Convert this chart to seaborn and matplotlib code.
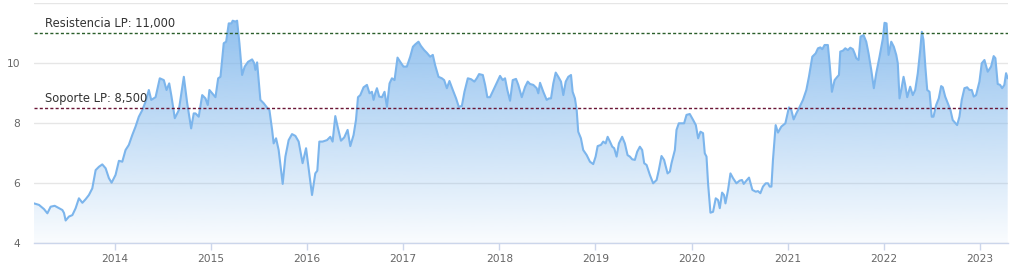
import numpy as np
import pandas as pd
import matplotlib
matplotlib.use("Agg")
import matplotlib.pyplot as plt
import seaborn as sns
from matplotlib.colors import LinearSegmentedColormap

# ---- data (decimal years, price) ----
dates = [
    2013.162, 2013.214, 2013.266, 2013.301, 2013.335, 2013.377, 2013.422, 2013.457, 2013.474, 2013.491,
    2013.525, 2013.561, 2013.595, 2013.629, 2013.665, 2013.699, 2013.733, 2013.768, 2013.803, 2013.837,
    2013.872, 2013.907, 2013.941, 2013.969, 2014.010, 2014.045, 2014.080, 2014.114, 2014.148, 2014.184,
    2014.218, 2014.252, 2014.288, 2014.322, 2014.356, 2014.381, 2014.426, 2014.470, 2014.512, 2014.540,
    2014.568, 2014.592, 2014.626, 2014.668, 2014.720, 2014.755, 2014.796, 2014.823, 2014.841, 2014.875,
    2014.911, 2014.945, 2014.969, 2014.986, 2015.031, 2015.049, 2015.077, 2015.101, 2015.135, 2015.160,
    2015.187, 2015.215, 2015.228, 2015.256, 2015.274, 2015.298, 2015.326, 2015.353, 2015.388, 2015.430,
    2015.451, 2015.464, 2015.482, 2015.516, 2015.550, 2015.586, 2015.610, 2015.638, 2015.654, 2015.679,
    2015.706, 2015.748, 2015.776, 2015.810, 2015.845, 2015.880, 2015.914, 2015.955, 2015.991, 2016.018,
    2016.053, 2016.087, 2016.108, 2016.129, 2016.163, 2016.209, 2016.243, 2016.267, 2016.295, 2016.319,
    2016.354, 2016.388, 2016.423, 2016.451, 2016.485, 2016.510, 2016.531, 2016.555, 2016.589, 2016.624,
    2016.651, 2016.676, 2016.693, 2016.710, 2016.728, 2016.752, 2016.780, 2016.807, 2016.832, 2016.859,
    2016.884, 2016.911, 2016.942, 2016.970, 2017.004, 2017.039, 2017.074, 2017.102, 2017.126, 2017.160,
    2017.185, 2017.219, 2017.247, 2017.281, 2017.309, 2017.333, 2017.368, 2017.403, 2017.427, 2017.455,
    2017.482, 2017.517, 2017.551, 2017.579, 2017.611, 2017.638, 2017.673, 2017.707, 2017.741, 2017.766,
    2017.790, 2017.829, 2017.853, 2017.876, 2017.904, 2017.939, 2017.974, 2018.008, 2018.036, 2018.060,
    2018.084, 2018.112, 2018.140, 2018.174, 2018.198, 2018.234, 2018.268, 2018.296, 2018.320, 2018.354,
    2018.389, 2018.406, 2018.424, 2018.458, 2018.493, 2018.517, 2018.538, 2018.562, 2018.587, 2018.614,
    2018.642, 2018.666, 2018.691, 2018.718, 2018.746, 2018.763, 2018.787, 2018.805, 2018.821, 2018.849,
    2018.873, 2018.909, 2018.943, 2018.977, 2019.002, 2019.023, 2019.057, 2019.081, 2019.106, 2019.127,
    2019.151, 2019.175, 2019.195, 2019.220, 2019.244, 2019.278, 2019.306, 2019.334, 2019.358, 2019.382,
    2019.410, 2019.434, 2019.462, 2019.486, 2019.507, 2019.532, 2019.566, 2019.600, 2019.636, 2019.659,
    2019.687, 2019.714, 2019.750, 2019.774, 2019.791, 2019.826, 2019.843, 2019.867, 2019.895, 2019.922,
    2019.947, 2019.981, 2020.016, 2020.044, 2020.068, 2020.092, 2020.119, 2020.137, 2020.155, 2020.171,
    2020.196, 2020.223, 2020.251, 2020.275, 2020.293, 2020.317, 2020.337, 2020.352, 2020.379, 2020.404,
    2020.431, 2020.466, 2020.500, 2020.524, 2020.542, 2020.570, 2020.597, 2020.632, 2020.667, 2020.690,
    2020.715, 2020.742, 2020.771, 2020.794, 2020.812, 2020.830, 2020.846, 2020.874, 2020.898, 2020.933,
    2020.975, 2021.012, 2021.037, 2021.061, 2021.089, 2021.124, 2021.158, 2021.193, 2021.220, 2021.255,
    2021.290, 2021.314, 2021.339, 2021.359, 2021.383, 2021.417, 2021.435, 2021.459, 2021.487, 2021.515,
    2021.532, 2021.546, 2021.573, 2021.598, 2021.625, 2021.650, 2021.677, 2021.695, 2021.712, 2021.736,
    2021.757, 2021.788, 2021.816, 2021.840, 2021.868, 2021.895, 2021.920, 2021.954, 2021.989, 2022.006,
    2022.027, 2022.048, 2022.076, 2022.103, 2022.128, 2022.144, 2022.162, 2022.180, 2022.204, 2022.221,
    2022.242, 2022.273, 2022.300, 2022.325, 2022.352, 2022.377, 2022.394, 2022.411, 2022.432, 2022.450,
    2022.474, 2022.497, 2022.515, 2022.543, 2022.570, 2022.595, 2022.612, 2022.637, 2022.664, 2022.692,
    2022.715, 2022.740, 2022.761, 2022.785, 2022.809, 2022.837, 2022.865, 2022.889, 2022.913, 2022.934,
    2022.958, 2022.993, 2023.017, 2023.045, 2023.079, 2023.114, 2023.141, 2023.159, 2023.183, 2023.208,
    2023.229, 2023.252, 2023.270, 2023.287,
]
values = [
    5.32, 5.27, 5.13, 4.99, 5.21, 5.24, 5.16, 5.10, 5.00, 4.75,
    4.88, 4.93, 5.16, 5.49, 5.34, 5.46, 5.60, 5.82, 6.43, 6.54,
    6.62, 6.49, 6.16, 6.01, 6.27, 6.74, 6.71, 7.10, 7.27, 7.60,
    7.88, 8.21, 8.43, 8.71, 9.10, 8.77, 8.86, 9.49, 9.43, 9.10,
    9.32, 8.88, 8.16, 8.43, 9.54, 8.66, 7.82, 8.32, 8.32, 8.21,
    8.93, 8.82, 8.60, 9.10, 8.93, 8.86, 9.49, 9.54, 10.66, 10.71,
    11.32, 11.32, 11.41, 11.38, 11.41, 10.66, 9.60, 9.88, 10.04, 10.12,
    10.00, 9.77, 10.02, 8.77, 8.66, 8.51, 8.43, 7.77, 7.32, 7.49,
    7.10, 5.97, 6.88, 7.43, 7.63, 7.57, 7.38, 6.66, 7.16, 6.49,
    5.60, 6.32, 6.41, 7.38, 7.38, 7.43, 7.54, 7.38, 8.23, 7.88,
    7.41, 7.52, 7.77, 7.23, 7.60, 8.10, 8.86, 8.93, 9.19, 9.27,
    8.99, 9.04, 8.77, 8.99, 9.16, 8.88, 8.86, 9.04, 8.54, 9.32,
    9.49, 9.43, 10.18, 10.04, 9.88, 9.88, 10.21, 10.54, 10.62, 10.71,
    10.57, 10.43, 10.34, 10.21, 10.27, 9.93, 9.54, 9.49, 9.43, 9.16,
    9.40, 9.10, 8.82, 8.54, 8.57, 9.04, 9.49, 9.46, 9.38, 9.49,
    9.63, 9.60, 9.27, 8.86, 8.86, 9.10, 9.34, 9.57, 9.43, 9.49,
    9.10, 8.74, 9.43, 9.47, 9.27, 8.86, 9.20, 9.38, 9.30, 9.27,
    9.16, 8.99, 9.34, 9.04, 8.77, 8.82, 8.82, 9.32, 9.68, 9.54,
    9.38, 8.93, 9.38, 9.54, 9.60, 9.04, 8.82, 8.43, 7.71, 7.49,
    7.10, 6.93, 6.71, 6.63, 6.88, 7.23, 7.27, 7.38, 7.32, 7.54,
    7.38, 7.21, 7.16, 6.88, 7.32, 7.54, 7.32, 6.93, 6.88, 6.79,
    6.77, 7.04, 7.21, 7.10, 6.66, 6.60, 6.27, 5.99, 6.10, 6.43,
    6.90, 6.77, 6.32, 6.38, 6.66, 7.10, 7.77, 7.99, 7.99, 7.99,
    8.27, 8.30, 8.10, 7.93, 7.49, 7.71, 7.66, 6.99, 6.88, 5.99,
    5.01, 5.04, 5.49, 5.43, 5.16, 5.68, 5.60, 5.32, 5.77, 6.32,
    6.16, 5.99, 6.08, 6.10, 5.97, 6.08, 6.18, 5.77, 5.71, 5.73,
    5.66, 5.88, 5.99, 5.99, 5.88, 5.88, 6.77, 7.93, 7.68, 7.88,
    7.99, 8.52, 8.43, 8.12, 8.32, 8.54, 8.77, 9.10, 9.54, 10.21,
    10.32, 10.49, 10.52, 10.46, 10.60, 10.60, 9.99, 9.04, 9.43, 9.54,
    9.60, 10.38, 10.41, 10.49, 10.43, 10.51, 10.46, 10.32, 10.16, 10.10,
    10.88, 10.93, 10.71, 10.32, 9.77, 9.16, 9.66, 10.21, 10.82, 11.34,
    11.32, 10.27, 10.71, 10.54, 10.27, 9.99, 8.82, 9.10, 9.54, 9.27,
    8.86, 9.21, 8.93, 9.10, 9.66, 10.43, 11.04, 10.77, 9.82, 9.10,
    9.04, 8.21, 8.21, 8.60, 8.82, 9.23, 9.19, 8.88, 8.66, 8.43,
    8.10, 8.01, 7.93, 8.21, 8.77, 9.16, 9.19, 9.10, 9.10, 8.88,
    8.93, 9.38, 9.99, 10.10, 9.71, 9.88, 10.23, 10.16, 9.30, 9.27,
    9.16, 9.27, 9.66, 9.49,
]
resistance_level = 11.0
support_level = 8.5
resistance_label = "Resistencia LP: 11,000"
support_label = "Soporte LP: 8,500"
year_ticks = [2014, 2015, 2016, 2017, 2018, 2019, 2020, 2021, 2022, 2023]
y_ticks = [4, 6, 8, 10, 12]
y_tick_labels = ["4", "6", "8", "10", ""]

# ---- style ----
sns.set_style("white")
plt.rcParams["font.family"] = ["DejaVu Sans"]

W, H = 1018, 280
fig = plt.figure(figsize=(W / 100, H / 100), dpi=100)
ax = fig.add_axes([34 / W, 37 / H, 974 / W, 240 / H])

x0, x1 = 2013.162, 2023.29
y0, y1 = 4, 12
ax.set_xlim(x0, x1)
ax.set_ylim(y0, y1)

df = pd.DataFrame({"date": dates, "price": values})

# gradient area
poly = ax.fill_between(df["date"], df["price"], y0, facecolor="none", edgecolor="none")
cmap = LinearSegmentedColormap.from_list(
    "area", [(124 / 255, 181 / 255, 236 / 255, 0.04), (124 / 255, 181 / 255, 236 / 255, 0.9)]
)
grad = np.linspace(1, 0, 256).reshape(-1, 1)
im = ax.imshow(grad, aspect="auto", cmap=cmap, extent=[x0, x1, y0, y1], origin="upper",
               zorder=2, interpolation="bicubic")
im.set_clip_path(poly.get_paths()[0], transform=ax.transData)

sns.lineplot(data=df, x="date", y="price", color="#7cb5ec", linewidth=1.5, ax=ax, zorder=3)

# support / resistance
ax.axhline(resistance_level, color="#2a5e2a", linestyle=(0, (2.2, 1.6)), linewidth=1, zorder=4)
ax.axhline(support_level, color="#6a1535", linestyle=(0, (2.2, 1.6)), linewidth=1, zorder=4)
tx = x0 + (11 / 974) * (x1 - x0)
ax.text(tx, resistance_level + 0.1, resistance_label, fontsize=8.3, color="#333333",
        ha="left", va="bottom", zorder=5)
ax.text(tx, support_level + 0.1, support_label, fontsize=8.3, color="#333333",
        ha="left", va="bottom", zorder=5)

# axes styling
ax.set_xticks(year_ticks)
ax.set_xticklabels([str(y) for y in year_ticks])
ax.set_yticks(y_ticks)
ax.set_yticklabels(y_tick_labels)
ax.set_xlabel("")
ax.set_ylabel("")
ax.yaxis.grid(True, color="#e6e6e6", linewidth=1, zorder=0)
ax.xaxis.grid(False)
ax.set_axisbelow(True)
for s in ["left", "right", "top"]:
    ax.spines[s].set_visible(False)
ax.spines["bottom"].set_color("#ccd6eb")
ax.spines["bottom"].set_linewidth(1)
ax.tick_params(axis="x", length=5, width=1, color="#ccd6eb", pad=3, labelsize=7.7,
               labelcolor="#666666", direction="out", bottom=True)
ax.tick_params(axis="y", length=0, pad=10, labelsize=7.7, labelcolor="#666666")

fig.savefig("out.png", dpi=100)
